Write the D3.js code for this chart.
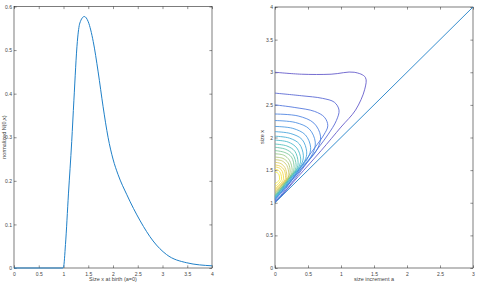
<!DOCTYPE html>
<meta charset="utf-8">
<style>
body { margin: 0; background: #fff; }
svg { font-family: "Liberation Sans", Arial, sans-serif; }
.axis text { font-size: 5px; fill: #444; }
.axis line { stroke: #262626; stroke-width: .5; }
.axis path { display: none; }
.frame { fill: none; stroke: #262626; stroke-width: .6; }
.label { font-size: 5.5px; fill: #444; }
</style>
<svg width="480" height="282"></svg>
<script src="https://cdn.jsdelivr.net/npm/d3@7"></script>
<script>

// left panel: density at birth N(0,x)
var birthSize = [0, 0.5, 0.98, 1.0, 1.04, 1.1, 1.166, 1.21, 1.28, 1.33, 1.42, 1.5, 1.6, 1.7, 1.8, 1.9, 2.0, 2.1, 2.28, 2.55, 2.81, 3.08, 3.49, 4.0];
var birthDens = [0, 0, 0, 0.002, 0.054, 0.17, 0.29, 0.385, 0.52, 0.562, 0.577, 0.565, 0.52, 0.45, 0.37, 0.30, 0.25, 0.215, 0.168, 0.108, 0.062, 0.031, 0.012, 0.005];

var leftXTicks = [0, 0.5, 1, 1.5, 2, 2.5, 3, 3.5, 4];
var leftYTicks = [0, 0.1, 0.2, 0.3, 0.4, 0.5, 0.6];
var rightXTicks = [0, 0.5, 1, 1.5, 2, 2.5, 3];
var rightYTicks = [0, 0.5, 1, 1.5, 2, 2.5, 3, 3.5, 4];

// right panel: boundary line x = a + 1
var boundaryA = [0, 3];
var boundaryX = [1, 4];

// contour lines of N(a,x), outermost (lowest level) first, points [a, x]
var contourLines = [
  [[0,3.00],[0.4,2.97],[0.85,2.97],[1.2,3.00],[1.37,2.92],[1.36,2.74],[1.22,2.42],[1.0,2.16],[0.7,1.80],[0.35,1.40],[0.1,1.11],[0,1.01]],
  [[0,2.68],[0.4,2.64],[0.72,2.60],[0.9,2.54],[0.97,2.42],[0.93,2.26],[0.80,2.04],[0.55,1.70],[0.28,1.34],[0.08,1.09],[0,1.02]],
  [[0,2.50],[0.3,2.46],[0.6,2.40],[0.75,2.31],[0.80,2.18],[0.74,2.04],[0.60,1.84],[0.40,1.56],[0.2,1.27],[0.06,1.08],[0,1.03]],
  [[0,2.36],[0.35,2.33],[0.59,2.22],[0.69,2.02],[0.64,1.82],[0.41,1.53],[0.17,1.24],[0,1.04]],
  [[0,2.26],[0.31,2.23],[0.52,2.13],[0.61,1.93],[0.57,1.75],[0.37,1.49],[0.15,1.23],[0,1.05]],
  [[0,2.17],[0.27,2.14],[0.46,2.04],[0.54,1.85],[0.50,1.69],[0.32,1.45],[0.14,1.22],[0,1.06]],
  [[0,2.09],[0.24,2.06],[0.41,1.97],[0.48,1.78],[0.45,1.64],[0.29,1.43],[0.12,1.21],[0,1.07]],
  [[0,2.02],[0.22,1.99],[0.37,1.90],[0.43,1.72],[0.40,1.59],[0.26,1.40],[0.11,1.21],[0,1.08]],
  [[0,1.96],[0.20,1.93],[0.33,1.84],[0.39,1.67],[0.36,1.55],[0.23,1.38],[0.10,1.21],[0,1.09]],
  [[0,1.90],[0.18,1.87],[0.30,1.79],[0.35,1.62],[0.33,1.52],[0.21,1.36],[0.09,1.20],[0,1.10]],
  [[0,1.85],[0.16,1.82],[0.27,1.74],[0.32,1.58],[0.30,1.49],[0.19,1.35],[0.08,1.20],[0,1.11]],
  [[0,1.80],[0.15,1.77],[0.25,1.70],[0.29,1.54],[0.27,1.46],[0.17,1.33],[0.07,1.20],[0,1.12]],
  [[0,1.75],[0.13,1.73],[0.22,1.65],[0.26,1.50],[0.24,1.43],[0.16,1.31],[0.07,1.20],[0,1.13]],
  [[0,1.70],[0.12,1.68],[0.20,1.61],[0.23,1.47],[0.21,1.41],[0.14,1.31],[0.06,1.21],[0,1.15]],
  [[0,1.66],[0.11,1.64],[0.18,1.57],[0.21,1.44],[0.20,1.38],[0.13,1.30],[0.05,1.21],[0,1.16]],
  [[0,1.62],[0.09,1.60],[0.15,1.54],[0.18,1.41],[0.17,1.36],[0.11,1.29],[0.05,1.22],[0,1.18]],
  [[0,1.58],[0.08,1.56],[0.14,1.50],[0.16,1.39],[0.15,1.35],[0.10,1.29],[0.04,1.23],[0,1.20]],
  [[0,1.55],[0.07,1.53],[0.11,1.48],[0.13,1.37],[0.12,1.34],[0.08,1.29],[0.03,1.24],[0,1.22]],
  [[0,1.51],[0.05,1.50],[0.085,1.45],[0.10,1.36],[0.09,1.34],[0.06,1.30],[0.02,1.26],[0,1.25]],
  [[0,1.47],[0.035,1.46],[0.06,1.43],[0.07,1.36],[0.06,1.34],[0.04,1.32],[0.015,1.30],[0,1.29]]
];

var svg = d3.select("svg");
var tick = 2.6;

// parula-like colour map (a bit lighter, like the thin lines in the image)
var parula = d3.interpolateRgbBasis(["#5247c4", "#3a6fe0", "#3c8fe0", "#2fabd4", "#3fbfae", "#8cc67e", "#d0c25e", "#f5cf3c", "#f5ee2a"]);
var fmt = function(d) { return String(+d.toFixed(2)); };

function panel(box, xdom, ydom, xticks, yticks, ypad) {
  var x = d3.scaleLinear().domain(xdom).range([box.x0, box.x1]);
  var y = d3.scaleLinear().domain(ydom).range([box.y1, box.y0]);

  svg.append("g").attr("class", "axis").attr("transform", "translate(0," + box.y1 + ")")
    .call(d3.axisBottom(x).tickValues(xticks).tickSize(-tick).tickSizeOuter(0).tickPadding(4).tickFormat(fmt));
  svg.append("g").attr("class", "axis").attr("transform", "translate(0," + box.y0 + ")")
    .call(d3.axisTop(x).tickValues(xticks).tickSize(-tick).tickSizeOuter(0).tickFormat(""));
  svg.append("g").attr("class", "axis").attr("transform", "translate(" + box.x0 + ",0)")
    .call(d3.axisLeft(y).tickValues(yticks).tickSize(-tick).tickSizeOuter(0).tickPadding(ypad).tickFormat(fmt));
  svg.append("g").attr("class", "axis").attr("transform", "translate(" + box.x1 + ",0)")
    .call(d3.axisRight(y).tickValues(yticks).tickSize(-tick).tickSizeOuter(0).tickFormat(""));

  svg.append("rect").attr("class", "frame")
    .attr("x", box.x0).attr("y", box.y0)
    .attr("width", box.x1 - box.x0).attr("height", box.y1 - box.y0);
  return {x: x, y: y};
}

// left panel
var L = panel({x0: 14, x1: 212, y0: 6.5, y1: 268}, [0, 4], [0, 0.6], leftXTicks, leftYTicks, 2);

svg.append("path")
  .datum(d3.range(birthSize.length))
  .attr("fill", "none")
  .attr("stroke", "#1f80c8")
  .attr("stroke-width", 1)
  .attr("d", d3.line()
    .x(function(i) { return L.x(birthSize[i]); })
    .y(function(i) { return L.y(birthDens[i]); })
    .curve(d3.curveMonotoneX));

svg.append("text").attr("class", "label")
  .attr("x", 113).attr("y", 280.5).attr("text-anchor", "middle")
  .text("Size x at birth (a=0)");
svg.append("text").attr("class", "label")
  .attr("transform", "translate(5.5,137) rotate(-90)").attr("text-anchor", "middle")
  .text("normalized N(0,x)");

// right panel
var R = panel({x0: 275, x1: 473, y0: 7, y1: 268}, [0, 3], [0, 4], rightXTicks, rightYTicks, 2);

var contourLine = d3.line()
  .x(function(d) { return R.x(d[0]); })
  .y(function(d) { return R.y(d[1]); })
  .curve(d3.curveCatmullRom.alpha(0.5));

svg.append("g").selectAll("path")
  .data(contourLines)
  .enter().append("path")
    .attr("fill", "none")
    .attr("stroke", function(d, i) { return parula(i / (contourLines.length - 1)); })
    .attr("stroke-width", 0.8)
    .attr("d", contourLine);

svg.append("line")
  .attr("x1", R.x(boundaryA[0])).attr("y1", R.y(boundaryX[0]))
  .attr("x2", R.x(boundaryA[1])).attr("y2", R.y(boundaryX[1]))
  .attr("stroke", "#1f80c8")
  .attr("stroke-width", 0.9);

svg.append("text").attr("class", "label")
  .attr("x", 374).attr("y", 280.5).attr("text-anchor", "middle")
  .text("size increment a");
svg.append("text").attr("class", "label")
  .attr("transform", "translate(264,137) rotate(-90)").attr("text-anchor", "middle")
  .text("size x");

</script>
